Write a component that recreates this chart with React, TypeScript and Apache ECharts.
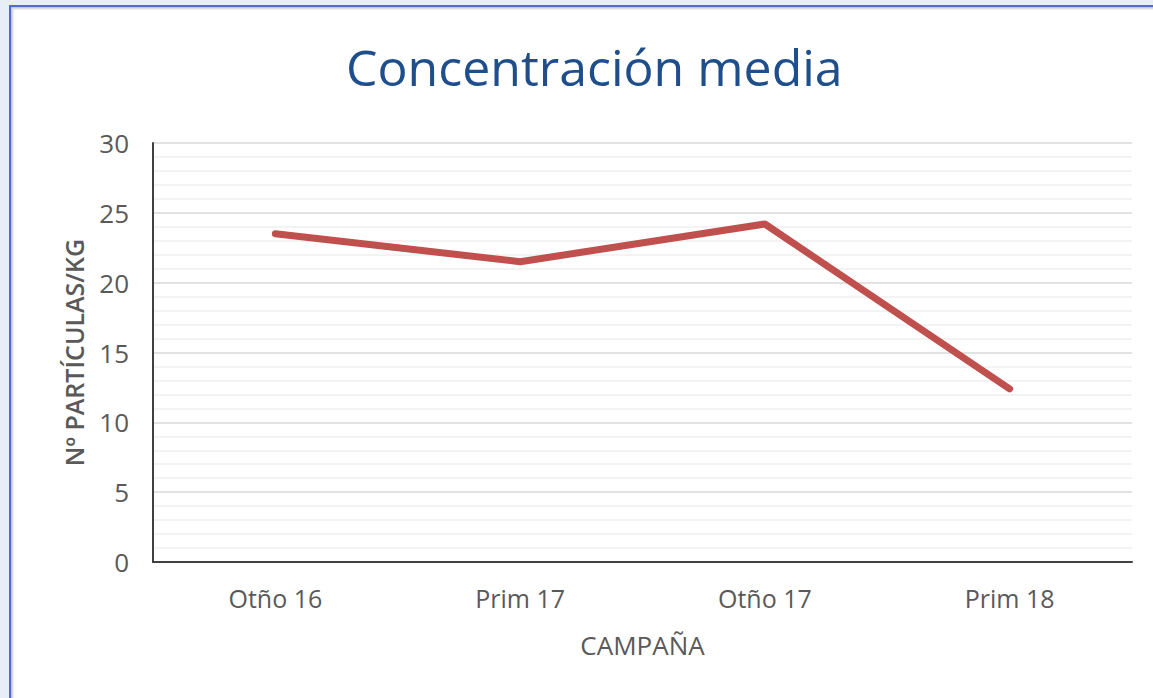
import React, { useEffect, useRef } from "react";
import * as echarts from "echarts";

const categories = ["Otño 16", "Prim 17", "Otño 17", "Prim 18"];
const values = [23.5, 21.5, 24.2, 12.4];
const title = "Concentración media";
const yName = "Nº PARTÍCULAS/KG";
const xName = "CAMPAÑA";

export default function App() {
  const ref = useRef<HTMLDivElement>(null);
  useEffect(() => {
    document.body.style.margin = "0";
    const chart = echarts.init(ref.current!, null, { renderer: "svg" });
    const font = "'Open Sans', sans-serif";
    chart.setOption({
      animation: false,
      backgroundColor: "#ffffff",
      title: {
        text: title,
        left: 341,
        top: 37,
        textStyle: { fontFamily: font, fontSize: 50, fontWeight: "normal", color: "#1f4e8c" },
      },
      graphic: [
        { type: "rect", shape: { x: 0, y: 0, width: 1153, height: 5 }, style: { fill: "#e7eef8" }, z: 100 },
        { type: "rect", shape: { x: 0, y: 0, width: 9, height: 698 }, style: { fill: "#e7eef8" }, z: 100 },
        { type: "rect", shape: { x: 9, y: 5, width: 1144, height: 2.5 }, style: { fill: "#5468d6" }, z: 100 },
        { type: "rect", shape: { x: 9, y: 5, width: 2.5, height: 693 }, style: { fill: "#5468d6" }, z: 100 },
        { type: "rect", shape: { x: 11.5, y: 7.5, width: 1141.5, height: 2 }, style: { fill: "#dcdcdc" }, z: 100 },
        { type: "rect", shape: { x: 11.5, y: 7.5, width: 2, height: 690.5 }, style: { fill: "#dcdcdc" }, z: 100 },
      ],
      grid: { left: 153, top: 143, right: 21, bottom: 136, containLabel: false },
      xAxis: {
        type: "category",
        data: categories,
        boundaryGap: true,
        name: xName,
        nameLocation: "middle",
        nameGap: 70,
        nameTextStyle: { fontFamily: font, fontSize: 26, color: "#595959" },
        axisLine: { lineStyle: { color: "#404040", width: 2 } },
        axisTick: { show: false },
        axisLabel: { fontFamily: font, fontSize: 25, color: "#595959", margin: 23 },
      },
      yAxis: {
        type: "value",
        min: 0,
        max: 30,
        interval: 5,
        name: yName,
        nameLocation: "middle",
        nameGap: 67,
        nameRotate: 90,
        nameTextStyle: { fontFamily: font, fontSize: 25, color: "#595959", fontWeight: 600 },
        axisLine: { show: true, lineStyle: { color: "#404040", width: 2 } },
        axisTick: { show: false },
        axisLabel: { fontFamily: font, fontSize: 26, color: "#595959", margin: 24 },
        splitLine: { lineStyle: { color: "#d9d9d9", width: 1.5 } },
        minorTick: { show: false, splitNumber: 5 },
        minorSplitLine: { show: true, lineStyle: { color: "#efefef", width: 1.5 } },
      },
      series: [
        {
          type: "line",
          data: values,
          symbol: "none",
          lineStyle: { color: "#c0504d", width: 7, cap: "round", join: "round" },
        },
      ],
    });
    return () => chart.dispose();
  }, []);
  return <div ref={ref} style={{ width: 1153, height: 698 }} />;
}
